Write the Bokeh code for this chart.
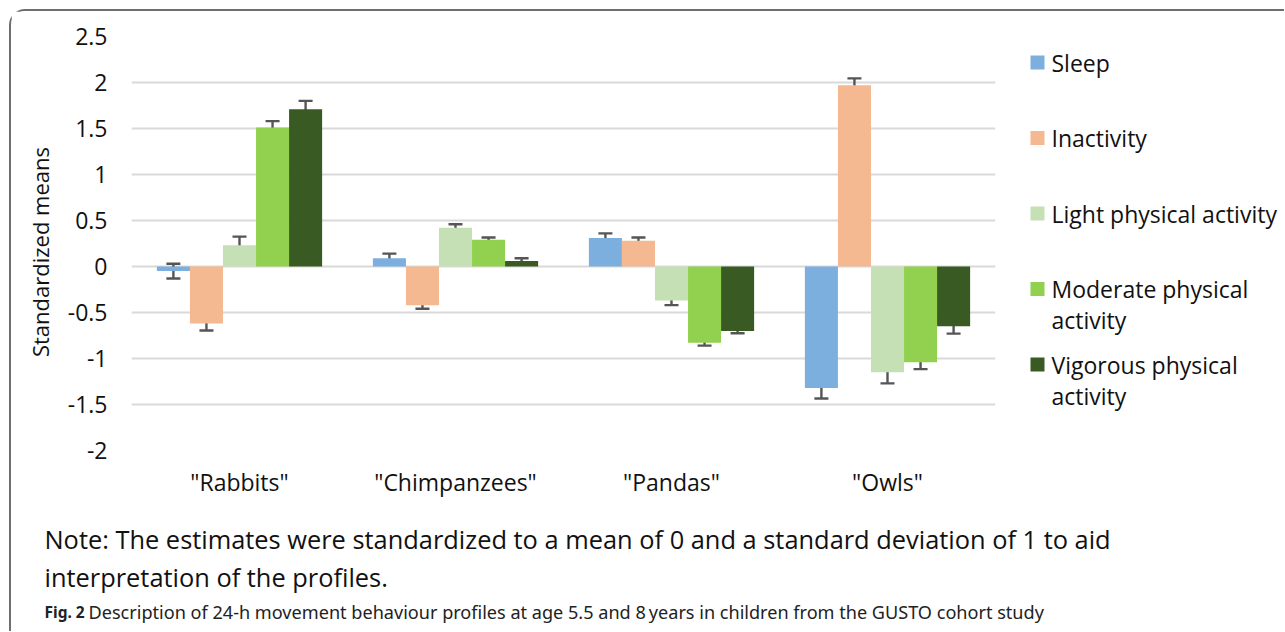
from bokeh.plotting import figure
from bokeh.layouts import row, column
from bokeh.models import (FactorRange, Range1d, ColumnDataSource, Whisker, TeeHead, FixedTicker,
                          CustomJSTickFormatter)
from bokeh.transform import dodge
from bokeh.core.properties import value
from bokeh.embed import file_html
from bokeh.resources import INLINE

# ---------------- data ----------------
groups = ['"Rabbits"', '"Chimpanzees"', '"Pandas"', '"Owls"']
series_labels = ["Sleep", "Inactivity", "Light physical activity",
                 "Moderate physical\nactivity", "Vigorous physical\nactivity"]
series_keys = ["sleep", "inactivity", "light", "moderate", "vigorous"]

sleep = [-0.05, 0.09, 0.31, -1.32]
inactivity = [-0.62, -0.42, 0.28, 1.97]
light = [0.23, 0.42, -0.37, -1.15]
moderate = [1.51, 0.29, -0.83, -1.04]
vigorous = [1.71, 0.06, -0.70, -0.65]

sleep_err = [0.08, 0.05, 0.05, 0.115]
inactivity_err = [0.075, 0.04, 0.035, 0.075]
light_err = [0.095, 0.04, 0.05, 0.12]
moderate_err = [0.07, 0.025, 0.03, 0.075]
vigorous_err = [0.09, 0.03, 0.025, 0.08]

y_ticks = [-2, -1.5, -1, -0.5, 0, 0.5, 1, 1.5, 2, 2.5]
y_tick_labels = ["-2", "-1.5", "-1", "-0.5", "0", "0.5", "1", "1.5", "2", "2.5"]

y_title = "Standardized means"
note_lines = ["Note: The estimates were standardized to a mean of 0 and a standard deviation of 1 to aid",
              "interpretation of the profiles."]
caption_bold = "Fig. 2"
caption_text = "Description of 24-h movement behaviour profiles at age 5.5 and 8\u2009years in children from the GUSTO cohort study"

colors = ["#7DAFDE", "#F4B990", "#C5E0B4", "#92D050", "#3A5A24"]

values = dict(sleep=sleep, inactivity=inactivity, light=light, moderate=moderate, vigorous=vigorous)
errors = dict(sleep=sleep_err, inactivity=inactivity_err, light=light_err,
              moderate=moderate_err, vigorous=vigorous_err)

FONT = "Open Sans"
TXT = "#111111"
MARGIN, BORDER = 9, 2
O = MARGIN + BORDER          # page offset of the canvases

MAIN_W, MAIN_H = 1000, 500
LEG_W = 273
BOT_H = 120
TOP, BOTTOM = 25, 61         # borders above / below the plotting frame

# ---------------- main chart ----------------
p = figure(x_range=FactorRange(factors=groups), y_range=Range1d(-2, 2.5),
           width=MAIN_W, height=MAIN_H, output_backend="svg", toolbar_location=None,
           min_border_left=120, min_border_right=16, min_border_top=TOP, min_border_bottom=BOTTOM)
p.outline_line_color = None
p.background_fill_color = "white"
p.border_fill_color = "white"

p.xgrid.grid_line_color = None
p.ygrid.grid_line_color = "#D9D9D9"
p.ygrid.grid_line_width = 2

yax = p.yaxis[0]
yax.ticker = FixedTicker(ticks=y_ticks)
yax.formatter = CustomJSTickFormatter(args=dict(yt=y_ticks, yl=y_tick_labels),
                                      code="const i = yt.indexOf(tick); return i >= 0 ? yl[i] : String(tick);")
yax.axis_line_color = None
yax.major_tick_line_color = None
yax.minor_tick_line_color = None
yax.major_tick_out = 0
yax.major_tick_in = 0
yax.major_label_standoff = 24
yax.major_label_text_font = FONT
yax.major_label_text_font_size = "23px"
yax.major_label_text_color = TXT
yax.axis_label = y_title + "\u00a0\u00a0\u00a0"
yax.axis_label_text_font = FONT
yax.axis_label_text_font_size = "22px"
yax.axis_label_text_font_style = "normal"
yax.axis_label_text_color = TXT
yax.axis_label_standoff = 10

xax = p.xaxis[0]
xax.axis_line_color = None
xax.major_tick_line_color = None
xax.minor_tick_line_color = None
xax.major_tick_out = 0
xax.major_tick_in = 0
xax.major_label_standoff = 15
xax.major_label_text_font = FONT
xax.major_label_text_font_size = "23px"
xax.major_label_text_color = TXT

bar_w = 0.153
offsets = [-2 * bar_w, -bar_w, 0.0, bar_w, 2 * bar_w]

for key, col, off in zip(series_keys, colors, offsets):
    v = values[key]
    e = errors[key]
    src = ColumnDataSource(dict(group=groups, val=v,
                                lo=[a - b for a, b in zip(v, e)],
                                hi=[a + b for a, b in zip(v, e)]))
    p.vbar(x=dodge("group", off, range=p.x_range), top="val", bottom=0, width=bar_w,
           source=src, fill_color=col, line_color=None)
    p.add_layout(Whisker(base=dodge("group", off, range=p.x_range), upper="hi", lower="lo", source=src,
                         line_color="#555555", line_width=2.4,
                         upper_head=TeeHead(size=14, line_color="#555555", line_width=2.4),
                         lower_head=TeeHead(size=14, line_color="#555555", line_width=2.4)))

# ---------------- legend panel (page pixel coordinates) ----------------
lg = figure(width=LEG_W, height=MAIN_H, output_backend="svg", toolbar_location=None,
            x_range=Range1d(O + MAIN_W, O + MAIN_W + LEG_W),
            y_range=Range1d(O + MAIN_H - BOTTOM, O + TOP),
            x_axis_type=None, y_axis_type=None,
            min_border_left=0, min_border_right=0, min_border_top=TOP, min_border_bottom=BOTTOM)
lg.outline_line_color = None
lg.grid.visible = False

first_lines = [s.split("\n")[0] for s in series_labels]
second_lines = [s.split("\n")[1] for s in series_labels if "\n" in s]
second_idx = [i for i, s in enumerate(series_labels) if "\n" in s]

leg_y0, leg_pitch, line_gap = 62, 75.5, 31
sq_x, txt_x = 1037, 1051
item_y = [leg_y0 + i * leg_pitch for i in range(len(series_labels))]
lg.scatter(x=[sq_x] * len(colors), y=item_y, marker="square", size=14,
           fill_color=colors, line_color=None)
lg.text(x=[txt_x] * len(first_lines), y=item_y, text=first_lines,
        text_font=value(FONT), text_font_size="23px", text_color=TXT, text_baseline="middle")
lg.text(x=[txt_x] * len(second_lines), y=[item_y[i] + line_gap for i in second_idx], text=second_lines,
        text_font=value(FONT), text_font_size="23px", text_color=TXT, text_baseline="middle")

# ---------------- note and caption panel (page pixel coordinates) ----------------
bt = figure(width=MAIN_W + LEG_W, height=BOT_H, output_backend="svg", toolbar_location=None,
            x_range=Range1d(O, O + MAIN_W + LEG_W), y_range=Range1d(O + MAIN_H + BOT_H, O + MAIN_H),
            x_axis_type=None, y_axis_type=None, min_border=0)
bt.outline_line_color = None
bt.grid.visible = False

bt.text(x=[44, 44], y=[538, 576], text=note_lines, text_font=value(FONT), text_font_size="25.4px",
        text_color=TXT, text_baseline="middle")
bt.text(x=[44], y=[611], text=[caption_bold], text_font=value("Noto Sans"), text_font_size="15.5px",
        text_font_style="bold", text_color="#222222", text_baseline="middle")
bt.text(x=[88], y=[611], text=[caption_text], text_font=value("Noto Sans"), text_font_size="18.1px",
        text_color="#222222", text_baseline="middle")

layout = column(row(p, lg), bt)
layout.styles = {"margin": f"{MARGIN}px 0 0 {MARGIN}px",
                 "border-top": f"{BORDER}px solid #6f6f6f", "border-left": f"{BORDER}px solid #6f6f6f",
                 "border-top-left-radius": "16px", "background-color": "white"}

open("out.html", "w").write(file_html(layout, INLINE))
